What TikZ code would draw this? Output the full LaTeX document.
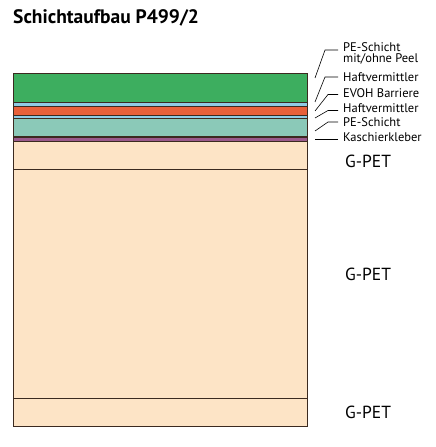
\documentclass[tikz,border=0pt]{standalone}
\usepackage{fontspec}
\setmainfont{PT Sans}
\usetikzlibrary{positioning,chains}
\definecolor{pegreen}{HTML}{3DAE5F}
\definecolor{haftblue}{HTML}{8FCBE5}
\definecolor{evohred}{HTML}{E8603A}
\definecolor{peteal}{HTML}{8BC9B8}
\definecolor{klebpurple}{HTML}{9A5A8C}
\definecolor{petpeach}{HTML}{FDE4C6}
\definecolor{rim}{HTML}{3B2A20}
\tikzset{
	layer/.style={
		rectangle,
		draw=rim, line width=0.8pt,
		minimum width=294pt,
		inner sep=0pt, outer sep=0pt,
		on chain},
	lbl/.style={anchor=west, inner sep=0pt, align=left,
		font=\fontsize{12.5}{12}\selectfont},
	petlbl/.style={anchor=west, inner sep=0pt,
		font=\fontsize{17.5}{20}\selectfont},
	leader/.style={draw=black, line width=0.6pt},
}
\begin{document}
\begin{tikzpicture}
	[x=1pt, y=-1pt,
	node distance=0pt,
	start chain=going below,]
	\useasboundingbox (0,0) rectangle (436,447);
	% title
	\node[anchor=west, inner sep=0pt, font=\fontsize{19.5}{22}\selectfont\bfseries] (title) at (13,18) {Schichtaufbau P499/2};
	% layers, top to bottom
	\node[layer, fill=pegreen, minimum height=29pt] (pe1) at (160,87.5) {};
	\node[layer, fill=haftblue, minimum height=4pt] (haft1) {};
	\node[layer, fill=evohred, minimum height=9pt] (evoh) {};
	\node[layer, fill=haftblue, minimum height=3.5pt] (haft2) {};
	\node[layer, fill=peteal, minimum height=18.5pt] (pe2) {};
	\node[layer, fill=klebpurple, minimum height=4.5pt] (kleber) {};
	\node[layer, fill=petpeach, minimum height=28pt] (pet1) {};
	\node[layer, fill=petpeach, minimum height=228.5pt] (pet2) {};
	\node[layer, fill=petpeach, minimum height=28pt] (pet3) {};
	\draw[rim, line width=1.6pt] (kleber.north west) -- (kleber.north east);
	% labels
	\node[lbl, anchor=north west] (l-pe1) at (343,42) {PE-Schicht\\[-1pt]mit/ohne Peel};
	\node[lbl] (l-haft1) at (343,77) {Haftvermittler};
	\node[lbl] (l-evoh) at (343,93.5) {EVOH Barriere};
	\node[lbl] (l-haft2) at (343,108.5) {Haftvermittler};
	\node[lbl] (l-pe2) at (343,122) {PE-Schicht};
	\node[lbl] (l-kleber) at (343,137.5) {Kaschierkleber};
	\node[petlbl] (l-pet1) at (345,161) {G-PET};
	\node[petlbl] (l-pet2) at (345,274) {G-PET};
	\node[petlbl] (l-pet3) at (345,412.5) {G-PET};
	% leader ends
	\coordinate (e-pe1) at (315,78);
	\coordinate (e-haft1) at (315,102);
	\coordinate (e-evoh) at (315,111);
	\coordinate (e-haft2) at (315,118);
	\coordinate (e-pe2) at (315,131);
	\coordinate (e-kleber) at (315,139);
	% leaders
	\draw[leader] ([xshift=-5pt, yshift=-8pt]l-pe1.north west) -- ++(-13,0) -- (e-pe1);
	\draw[leader] ([xshift=-5pt]l-haft1.west) -- ++(-13,0) -- (e-haft1);
	\draw[leader] ([xshift=-5pt, yshift=-1pt]l-evoh.west) -- ++(-10,0) -- (e-evoh);
	\draw[leader] ([xshift=-5pt, yshift=-2pt]l-haft2.west) -- ++(-10,0) -- (e-haft2);
	\draw[leader] ([xshift=-5pt]l-pe2.west) -- ++(-10,0) -- (e-pe2);
	\draw[leader] ([xshift=-5pt, yshift=-1.5pt]l-kleber.west) -- (e-kleber);
\end{tikzpicture}
\end{document}
